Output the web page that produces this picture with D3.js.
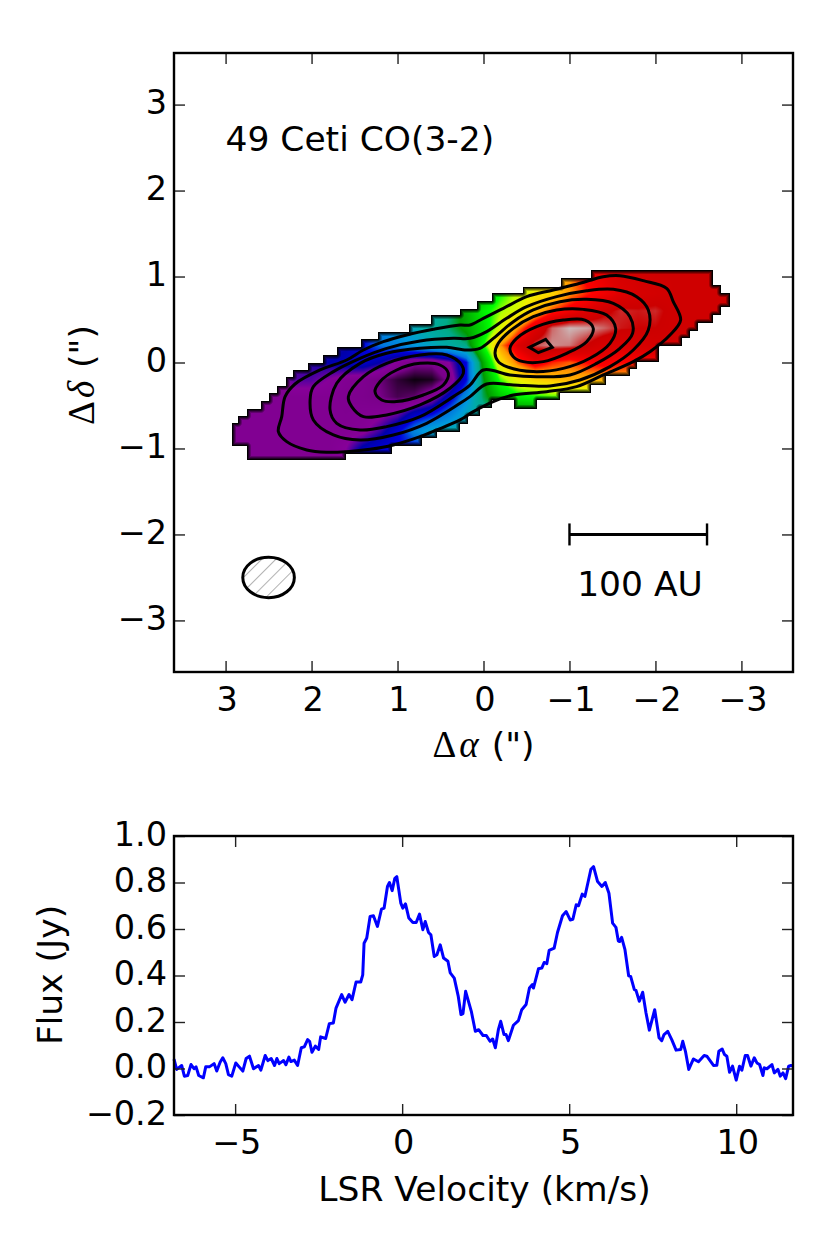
<!DOCTYPE html>
<html>
<head>
<meta charset="utf-8">
<script src="https://d3js.org/d3.v7.min.js"></script>
<style>
html, body { margin: 0; padding: 0; background: #fff; }
svg { display: block; }
text { font-family: "DejaVu Sans", sans-serif; fill: #000; }
.domain { display: none; }
.tick line { stroke: #222; stroke-width: 1.4; }
.tick text { font-size: 33.5px; font-family: "DejaVu Sans", sans-serif; }
</style>
</head>
<body>
<script>
//moment map: sampled every 0.2" in both directions
var mapAlpha = [3.0,2.8,2.6,2.4,2.2,2.0,1.8,1.6,1.4,1.2,1.0,0.8,0.6,0.4,0.2,0,-0.2,-0.4,-0.6,-0.8,-1.0,-1.2,-1.4,-1.6,-1.8,-2.0,-2.2,-2.4,-2.6,-2.8,-3.0];
var mapDelta = [1.2,1.0,0.8,0.6,0.4,0.2,0,-0.2,-0.4,-0.6,-0.8,-1.0,-1.2];
var mapValues = [
 [.08,.08,.08,.08,.10,.12,.14,.15,.18,.22,.25,.30,.34,.38,.45,.50,.60,.66,.70,.74,.80,.86,.90,.92,.93,.94,.94,.94,.94,.94,.94],
 [.08,.08,.08,.08,.10,.12,.14,.15,.18,.22,.25,.30,.34,.38,.45,.50,.60,.66,.70,.74,.80,.86,.89,.92,.93,.94,.94,.94,.94,.94,.94],
 [.08,.08,.08,.08,.10,.12,.14,.15,.18,.22,.25,.30,.34,.38,.45,.50,.60,.66,.70,.74,.80,.84,.87,.90,.92,.93,.94,.94,.94,.94,.94],
 [.08,.08,.08,.08,.10,.12,.14,.15,.18,.22,.25,.30,.35,.40,.48,.58,.64,.68,.76,.83,.87,.90,.94,.96,.955,.96,.94,.94,.94,.94,.94],
 [.08,.08,.08,.08,.10,.12,.13,.15,.18,.26,.30,.34,.37,.41,.47,.55,.68,.80,.90,.975,.995,.99,.975,.955,.95,.95,.94,.94,.94,.94,.94],
 [.08,.08,.08,.08,.10,.12,.13,.14,.20,.25,.27,.30,.33,.36,.40,.60,.80,.90,.97,.985,.98,.95,.92,.91,.92,.93,.93,.93,.93,.93,.93],
 [.08,.08,.08,.09,.12,.14,.15,.17,.18,.15,.09,.06,.06,.10,.20,.48,.72,.82,.88,.84,.82,.85,.87,.85,.85,.86,.86,.86,.86,.86,.86],
 [.08,.08,.08,.09,.12,.12,.10,.08,.07,.045,.02,.005,.01,.06,.20,.44,.62,.70,.74,.76,.78,.78,.78,.78,.78,.78,.78,.78,.78,.78,.78],
 [.08,.08,.08,.08,.08,.08,.08,.07,.065,.05,.03,.04,.08,.17,.28,.42,.52,.58,.60,.62,.62,.62,.62,.62,.62,.62,.62,.62,.62,.62,.62],
 [.08,.08,.08,.08,.08,.08,.08,.075,.08,.09,.11,.17,.20,.26,.33,.37,.40,.40,.40,.40,.40,.40,.40,.40,.40,.40,.40,.40,.40,.40,.40],
 [.08,.08,.08,.08,.08,.08,.08,.08,.09,.13,.19,.27,.33,.35,.35,.35,.35,.35,.35,.35,.35,.35,.35,.35,.35,.35,.35,.35,.35,.35,.35],
 [.08,.08,.08,.08,.08,.08,.08,.10,.16,.19,.20,.20,.20,.20,.20,.20,.20,.20,.20,.20,.20,.20,.20,.20,.20,.20,.20,.20,.20,.20,.20],
 [.08,.08,.08,.08,.08,.08,.08,.10,.16,.19,.20,.20,.20,.20,.20,.20,.20,.20,.20,.20,.20,.20,.20,.20,.20,.20,.20,.20,.20,.20,.20]
];
//stair-stepped outline of the valid pixels: [alpha where the step starts, delta]
var maskTop = [[2.92,-.70],[2.85,-.62],[2.75,-.54],[2.59,-.45],[2.49,-.35],[2.40,-.27],[2.30,-.17],[2.22,-.09],[2.04,-.01],[1.87,.09],[1.70,.18],[1.42,.27],[1.23,.36],[.87,.45],[.61,.55],[.27,.62],[.07,.71],[-.10,.81],[-.46,.88],[-.90,.98],[-1.25,1.08],[-2.67,.90],[-2.76,.81]];
var maskBottom = [[2.92,-.97],[2.75,-1.13],[1.60,-1.07],[1.07,-.97],[.71,-.88],[.54,-.81],[.27,-.71],[.18,-.62],[.04,-.53],[-.10,-.44],[-.35,-.54],[-.62,-.44],[-.89,-.35],[-1.25,-.26],[-1.43,-.16],[-1.70,-.08],[-1.78,.01],[-2.04,.19],[-2.31,.28],[-2.40,.37],[-2.50,.46],[-2.67,.55],[-2.76,.64]];
var maskEnd = -2.87;

//nipy_spectral colour stops
var cmapStops = d3.range(0, 1.001, 0.05);
var cmapColors = ["#000000","#780088","#870099","#0000aa","#0000dd","#0077dd","#0099dd","#00aaaa","#00aa88","#009900","#00bb00","#00dd00","#00ff00","#bbff00","#eeee00","#ffcc00","#ff9900","#ff0000","#dd0000","#cc0000","#cccccc"];

//contour levels, traced as [alpha, delta]
var contours = [
 [[2.386,-.804],[2.347,-.63],[2.308,-.397],[2.192,-.25],[1.901,-.087],[1.591,.029],[1.397,.145],[1.165,.242],[.893,.32],[.583,.386],[.273,.436],[.157,.436],[.002,.514],[-.231,.63],[-.502,.766],[-.812,.843],[-1.122,.921],[-1.393,.998],[-1.587,1.01],[-1.859,.952],[-2.13,.863],[-2.207,.708],[-2.293,.494],[-2.169,.32],[-1.936,.126],[-1.742,.01],[-1.393,-.145],[-1.083,-.281],[-.734,-.339],[-.347,-.378],[-.114,-.455],[.118,-.572],[.273,-.668],[.545,-.785],[.738,-.862],[1.048,-.959],[1.32,-1.01],[1.591,-1.037],[1.824,-1.044],[2.056,-1.017],[2.289,-.92]],
 [[2.017,-.436],[1.979,-.281],[1.746,-.106],[1.436,.049],[1.126,.165],[.738,.25],[.351,.281],[.157,.281],[-.037,.359],[-.269,.514],[-.502,.649],[-.851,.766],[-1.2,.835],[-1.51,.851],[-1.781,.766],[-1.917,.611],[-1.917,.378],[-1.742,.145],[-1.471,-.048],[-1.122,-.203],[-.773,-.273],[-.347,-.261],[-.037,-.25],[.157,-.397],[.273,-.475],[.661,-.707],[1.048,-.843],[1.436,-.901],[1.746,-.843],[1.979,-.668]],
 [[1.785,-.552],[1.707,-.242],[1.436,-.01],[1.126,.107],[.738,.165],[.428,.176],[.196,.145],[.041,.165],[-.114,.281],[-.347,.475],[-.579,.611],[-.889,.707],[-1.2,.735],[-1.51,.688],[-1.703,.533],[-1.734,.339],[-1.587,.165],[-1.316,-.01],[-1.006,-.145],[-.618,-.165],[-.308,-.145],[.002,-.087],[.157,-.262],[.351,-.397],[.738,-.63],[1.126,-.746],[1.436,-.785],[1.707,-.707]],
 [[1.572,-.397],[1.397,-.165],[1.126,-.01],[.738,.087],[.428,.087],[.254,-.029],[.235,-.126],[.39,-.3],[.738,-.494],[1.126,-.61],[1.397,-.63],[1.533,-.513]],
 [[1.262,-.339],[1.204,-.223],[1.01,-.087],[.738,-.01],[.506,-.029],[.409,-.126],[.467,-.262],[.7,-.378],[1.01,-.455],[1.184,-.436]],
 [[-.134,.107],[-.172,.223],[-.347,.397],[-.579,.533],[-.851,.611],[-1.161,.618],[-1.432,.552],[-1.537,.397],[-1.471,.223],[-1.238,.049],[-.928,-.068],[-.579,-.106],[-.269,-.048],[-.172,.01]],
 [[-.308,.165],[-.386,.281],[-.618,.417],[-.928,.494],[-1.18,.494],[-1.277,.397],[-1.2,.242],[-.967,.107],[-.696,.01],[-.463,.01],[-.347,.068]]
];
var peakContour = [[-.533,.176],[-.723,.269],[-.8,.176],[-.638,.114]];

var scaleBar = [-1, -2.6];
var scaleBarDelta = -2;
var beamCentre = [2.5, -2.5];
var beamRadii = [0.3, 0.235];

var mapTicks = [3,2,1,0,-1,-2,-3];
var velocityTicks = [-5,0,5,10];
var fluxTicks = [-0.2,0,0.2,0.4,0.6,0.8,1.0];

//integrated spectrum
var velocity = [-6.83,-6.75,-6.60,-6.52,-6.42,-6.32,-6.23,-6.17,-6.09,-5.95,-5.88,-5.77,-5.63,-5.55,-5.45,-5.37,-5.28,-5.20,-5.10,-4.98,-4.88,-4.77,-4.67,-4.57,-4.45,-4.30,-4.23,-4.10,-4.02,-3.92,-3.82,-3.75,-3.68,-3.55,-3.48,-3.39,-3.33,-3.23,-3.13,-3.02,-2.93,-2.83,-2.77,-2.70,-2.60,-2.50,-2.44,-2.29,-2.18,-2.06,-1.98,-1.81,-1.71,-1.59,-1.50,-1.38,-1.24,-1.18,-1.14,-1.06,-.96,-.86,-.74,-.62,-.54,-.44,-.38,-.30,-.22,-.16,-.04,.02,.10,.20,.32,.42,.52,.62,.69,.79,.86,.96,1.04,1.14,1.24,1.37,1.44,1.56,1.68,1.76,1.82,1.90,2.07,2.19,2.29,2.42,2.52,2.63,2.71,2.79,2.88,2.95,3.05,3.11,3.18,3.33,3.48,3.58,3.71,3.81,3.90,3.93,4.08,4.18,4.25,4.33,4.40,4.55,4.65,4.80,4.91,5.03,5.11,5.21,5.28,5.39,5.47,5.65,5.73,5.85,5.98,6.08,6.19,6.30,6.40,6.47,6.51,6.57,6.67,6.78,6.84,6.95,7.00,7.10,7.20,7.30,7.40,7.56,7.69,7.77,7.84,7.95,8.07,8.20,8.34,8.40,8.48,8.58,8.72,8.87,9.04,9.12,9.32,9.42,9.48,9.58,9.65,9.72,9.80,9.89,10.00,10.10,10.17,10.27,10.34,10.44,10.54,10.62,10.70,10.80,10.84,10.92,11.07,11.14,11.25,11.32,11.40,11.48,11.57,11.64,11.70];
var flux = [.04,-.004,.013,-.033,-.03,.017,-.001,.007,-.03,-.04,.007,.007,.021,-.011,.027,.046,.021,-.026,-.033,.024,.007,-.011,.043,.053,-.001,.013,-.007,.056,.034,.043,.013,.043,.021,.034,.016,.049,.03,.036,.013,.089,.093,.124,.117,.07,.096,.082,.136,.129,.193,.196,.26,.318,.285,.318,.296,.372,.372,.403,.539,.561,.654,.657,.611,.685,.69,.783,.80,.765,.818,.825,.711,.69,.708,.647,.628,.628,.664,.597,.632,.585,.575,.482,.489,.532,.475,.461,.411,.389,.31,.232,.236,.332,.246,.16,.167,.142,.142,.117,.127,.089,.167,.203,.146,.146,.12,.186,.206,.253,.275,.346,.361,.346,.429,.432,.456,.451,.508,.518,.585,.657,.675,.639,.642,.704,.70,.75,.74,.857,.868,.804,.783,.80,.754,.625,.607,.549,.546,.564,.511,.399,.396,.339,.336,.289,.328,.239,.165,.253,.132,.12,.146,.16,.124,.079,.082,.117,.074,-.004,.041,.029,.056,.053,.013,.014,.074,.084,.06,.053,-.016,.01,-.05,.01,-.007,.056,.056,.01,.046,.024,.017,-.03,.003,-.001,.017,-.019,-.004,-.033,-.019,-.044,.01,.013,.01];

var width = 830, height = 1246;
var svg = d3.select("body").append("svg")
    .attr("width", width)
    .attr("height", height);

//top panel frame and scales
var mapBox = {left: 174, right: 793, top: 53, bottom: 672};
var x = d3.scaleLinear().domain([3.6, -3.6]).range([mapBox.left, mapBox.right]);
var y = d3.scaleLinear().domain([-3.6, 3.6]).range([mapBox.bottom, mapBox.top]);

//bottom panel frame and scales
var specBox = {left: 174, right: 793, top: 836, bottom: 1115};
var xs = d3.scaleLinear().domain([-6.83, 11.7]).range([specBox.left, specBox.right]);
var ys = d3.scaleLinear().domain([-0.2, 1.0]).range([specBox.bottom, specBox.top]);

var cmap = d3.scaleLinear().domain(cmapStops).range(cmapColors).clamp(true);

function stepLookup(steps, a) {
    //steps run from large alpha to small alpha
    var val = null;
    for (var i = 0; i < steps.length; i++) {
        if (a <= steps[i][0]) val = steps[i][1];
    }
    return val;
}

function mapValueAt(a, d) {
    var fx = (mapAlpha[0] - a) / 0.2, fy = (mapDelta[0] - d) / 0.2;
    var i = Math.max(0, Math.min(mapAlpha.length - 2, Math.floor(fx)));
    var j = Math.max(0, Math.min(mapDelta.length - 2, Math.floor(fy)));
    var tx = fx - i, ty = fy - j;
    var top = mapValues[j][i] * (1 - tx) + mapValues[j][i + 1] * tx;
    var bot = mapValues[j + 1][i] * (1 - tx) + mapValues[j + 1][i + 1] * tx;
    return top * (1 - ty) + bot * ty;
}

//paint the map on a canvas and hand it to the svg as an image
function drawMoment() {
    var x0 = Math.floor(x(maskTop[0][0])) - 2, x1 = Math.ceil(x(maskEnd)) + 2;
    var y0 = Math.floor(y(1.08)) - 2, y1 = Math.ceil(y(-1.13)) + 2;
    var w = x1 - x0, h = y1 - y0;
    var inside = new Uint8Array(w * h);
    var px, py;
    for (py = 0; py < h; py++) {
        for (px = 0; px < w; px++) {
            var a = x.invert(x0 + px + 0.5), d = y.invert(y0 + py + 0.5);
            if (a > maskTop[0][0] || a < maskEnd) continue;
            if (d <= stepLookup(maskTop, a) && d >= stepLookup(maskBottom, a)) inside[py * w + px] = 1;
        }
    }
    var canvas = document.createElement("canvas");
    canvas.width = w; canvas.height = h;
    var ctx = canvas.getContext("2d");
    var img = ctx.createImageData(w, h);
    var fade = 5;
    for (py = 0; py < h; py++) {
        for (px = 0; px < w; px++) {
            if (!inside[py * w + px]) continue;
            //distance to the nearest empty pixel, the edge of the map fades to black
            var best = fade + 1;
            for (var dy = -fade; dy <= fade; dy++) {
                for (var dx = -fade; dx <= fade; dx++) {
                    var qx = px + dx, qy = py + dy;
                    if (qx < 0 || qy < 0 || qx >= w || qy >= h || !inside[qy * w + qx]) {
                        var dist = Math.sqrt(dx * dx + dy * dy);
                        if (dist < best) best = dist;
                    }
                }
            }
            var shade = Math.min(1, (best - 1) / (fade - 1));
            var c = d3.rgb(cmap(mapValueAt(x.invert(x0 + px + 0.5), y.invert(y0 + py + 0.5))));
            var k = (py * w + px) * 4;
            img.data[k] = c.r * shade;
            img.data[k + 1] = c.g * shade;
            img.data[k + 2] = c.b * shade;
            img.data[k + 3] = 255;
        }
    }
    ctx.putImageData(img, 0, 0);
    svg.append("image")
        .attr("class", "moment")
        .attr("x", x0).attr("y", y0)
        .attr("width", w).attr("height", h)
        .attr("href", canvas.toDataURL());
}
drawMoment();

//contours
var smooth = d3.line().x(function(d){ return x(d[0]); }).y(function(d){ return y(d[1]); }).curve(d3.curveCatmullRomClosed.alpha(0.5));
var straight = d3.line().x(function(d){ return x(d[0]); }).y(function(d){ return y(d[1]); }).curve(d3.curveLinearClosed);
svg.selectAll(".contour")
    .data(contours)
    .enter()
    .append("path")
    .attr("class", "contour")
    .attr("d", smooth)
    .attr("fill", "none")
    .attr("stroke", "#000")
    .attr("stroke-width", 3);
svg.append("path")
    .datum(peakContour)
    .attr("d", straight)
    .attr("fill", "none")
    .attr("stroke", "#000")
    .attr("stroke-width", 3);

//beam
var defs = svg.append("defs");
var hatch = defs.append("pattern")
    .attr("id", "hatch")
    .attr("patternUnits", "userSpaceOnUse")
    .attr("width", 10).attr("height", 10)
    .attr("patternTransform", "rotate(45)");
hatch.append("line")
    .attr("x1", 0).attr("y1", 0).attr("x2", 0).attr("y2", 10)
    .attr("stroke", "#666").attr("stroke-width", 1);
svg.append("ellipse")
    .attr("cx", x(beamCentre[0])).attr("cy", y(beamCentre[1]))
    .attr("rx", x(beamCentre[0] - beamRadii[0]) - x(beamCentre[0]))
    .attr("ry", y(beamCentre[1] - beamRadii[1]) - y(beamCentre[1]))
    .attr("fill", "url(#hatch)")
    .attr("stroke", "#000")
    .attr("stroke-width", 3);

//scale bar
svg.append("line")
    .attr("x1", x(scaleBar[0])).attr("x2", x(scaleBar[1]))
    .attr("y1", y(scaleBarDelta)).attr("y2", y(scaleBarDelta))
    .attr("stroke", "#000").attr("stroke-width", 3);
svg.selectAll(".cap")
    .data(scaleBar)
    .enter()
    .append("line")
    .attr("class", "cap")
    .attr("x1", function(d){ return x(d); }).attr("x2", function(d){ return x(d); })
    .attr("y1", y(scaleBarDelta) - 11).attr("y2", y(scaleBarDelta) + 11)
    .attr("stroke", "#000").attr("stroke-width", 2.4);

svg.append("text").attr("x", x(2.99) - 1).attr("y", y(2.46)).attr("font-size", 34.5).text("49 Ceti CO(3-2)");
svg.append("text").attr("x", x(-1.82)).attr("y", y(-2.72)).attr("font-size", 34.5).attr("text-anchor", "middle").text("100 AU");

//spectrum
svg.append("path")
    .datum(d3.zip(velocity, flux))
    .attr("class", "spectrum")
    .attr("d", d3.line().x(function(d){ return xs(d[0]); }).y(function(d){ return ys(d[1]); }))
    .attr("fill", "none")
    .attr("stroke", "#0000ff")
    .attr("stroke-width", 3)
    .attr("stroke-linejoin", "round");

function drawFrame(box, xScale, yScale, xTicks, yTicks, xFormat, yFormat) {
    var tick = 11;
    var bottomAxis = svg.append("g").attr("transform", "translate(0," + box.bottom + ")")
        .call(d3.axisBottom(xScale).tickValues(xTicks).tickSize(-tick).tickPadding(15).tickFormat(xFormat));
    bottomAxis.selectAll(".tick text").attr("dx", 1);
    svg.append("g").attr("transform", "translate(0," + box.top + ")")
        .call(d3.axisTop(xScale).tickValues(xTicks).tickSize(-tick).tickFormat(""));
    var leftAxis = svg.append("g").attr("transform", "translate(" + box.left + ",0)")
        .call(d3.axisLeft(yScale).tickValues(yTicks).tickSize(-tick).tickPadding(7).tickFormat(yFormat));
    leftAxis.selectAll(".tick text").attr("dy", "0.28em");
    svg.append("g").attr("transform", "translate(" + box.right + ",0)")
        .call(d3.axisRight(yScale).tickValues(yTicks).tickSize(-tick).tickFormat(""));
    svg.append("rect")
        .attr("x", box.left).attr("y", box.top)
        .attr("width", box.right - box.left).attr("height", box.bottom - box.top)
        .attr("fill", "none").attr("stroke", "#000").attr("stroke-width", 2.4);
}
var intFormat = function(d){ return String(d).replace("-", "\u2212"); };
var fluxFormat = function(d){ return d3.format(".1f")(d).replace("-", "\u2212"); };
drawFrame(mapBox, x, y, mapTicks, mapTicks, intFormat, intFormat);
drawFrame(specBox, xs, ys, velocityTicks, fluxTicks, intFormat, fluxFormat);

//axis labels, the greek part is set in a serif like the original math text
function mathLabel(node, greek) {
    node.append("tspan").attr("font-family", "Liberation Serif").attr("font-size", 37).text("\u0394");
    node.append("tspan").attr("font-family", "Liberation Serif").attr("font-style", "italic").attr("font-size", 37).attr("dx", 3).text(greek);
    node.append("tspan").attr("dx", 2).text(" (\")");
}
var xLabel = svg.append("text").attr("x", x(0)).attr("y", 757).attr("font-size", 34.5).attr("text-anchor", "middle");
mathLabel(xLabel, "\u03b1");
var yLabel = svg.append("text").attr("transform", "translate(94,375) rotate(-90)").attr("font-size", 34.5).attr("text-anchor", "middle");
mathLabel(yLabel, "\u03b4");
svg.append("text").attr("x", 484.5).attr("y", 1201).attr("font-size", 34.5).attr("text-anchor", "middle").text("LSR Velocity (km/s)");
svg.append("text").attr("transform", "translate(62,975) rotate(-90)").attr("font-size", 34.5).attr("text-anchor", "middle").text("Flux (Jy)");
</script>
</body>
</html>
